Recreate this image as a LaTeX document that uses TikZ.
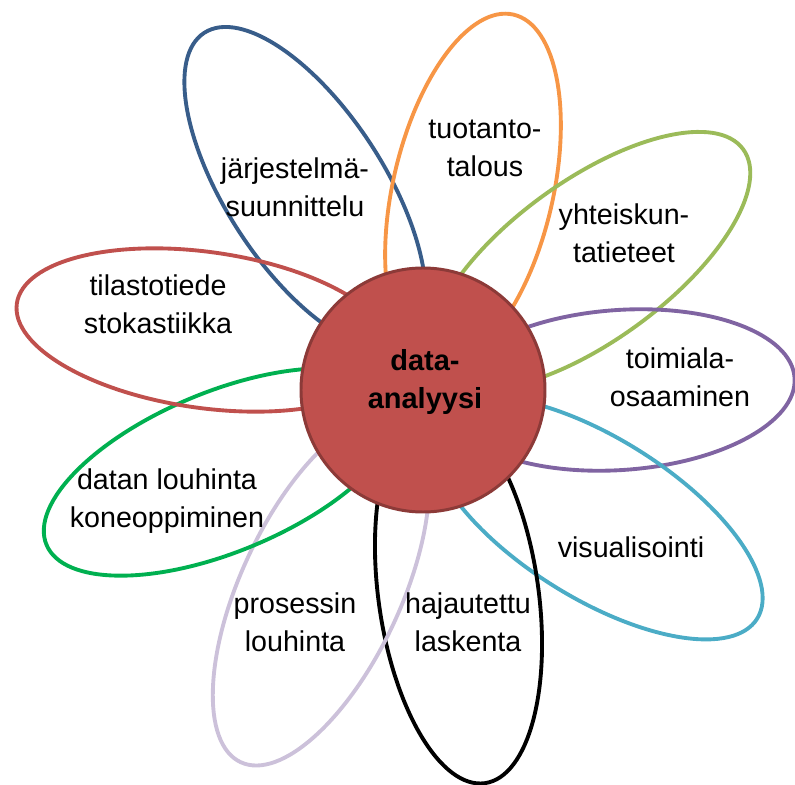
\documentclass[tikz,border=0pt]{standalone}
\usepackage{fontspec}
\setmainfont{Liberation Sans}
\usetikzlibrary{shapes.geometric}
\definecolor{petblue}{HTML}{385D8A}
\definecolor{petorange}{HTML}{F79646}
\definecolor{petolive}{HTML}{9BBB59}
\definecolor{petpurple}{HTML}{8064A2}
\definecolor{petteal}{HTML}{4BACC6}
\definecolor{petlilac}{HTML}{CCC1DA}
\definecolor{petgreen}{HTML}{00B050}
\definecolor{petred}{HTML}{C0504D}
\definecolor{coreedge}{HTML}{8C3A38}

\begin{document}
\begin{tikzpicture}[
    petal/.style={ellipse, draw, line width=2.2pt, minimum width=7.6cm,
                  minimum height=3.2cm, inner sep=0pt},
    lbl/.style={align=center, font=\fontsize{16.3}{21.6}\selectfont},
  ]
  \useasboundingbox (-8.46,-7.9) rectangle (7.44,7.8);

  % Teralehdet
  \node[petal, petblue, rotate=123, minimum width=7.4cm,
        minimum height=3.16cm] (jarj) at (-2.36,4.04) {};
  \node[petal, petorange, rotate=77, minimum width=7.2cm] (tuot) at (1.0,4.0) {};
  \node[petal, petolive, rotate=36] (yht) at (3.33,2.58) {};
  \node[petal, petpurple, rotate=4, minimum width=7.0cm] (toim) at (3.94,0) {};
  \node[petal, petteal, rotate=-32] (visu) at (3.46,-2.56) {};
  \node[petal, black, rotate=-82] (haja) at (0.71,-4.1) {};
  \node[petal, petlilac, rotate=-115] (pros) at (-2.04,-4.0) {};
  \node[petal, petgreen, rotate=22.5] (dlou) at (-4.02,-1.64) {};
  \node[petal, petred, rotate=-8, minimum height=3.12cm] (tila) at (-4.36,1.2) {};

  % Keskusta
  \node[circle, fill=petred, draw=coreedge, line width=1.7pt,
        minimum size=4.88cm, inner sep=0pt] (core) at (0,0) {};
  \node[lbl, font=\fontsize{16.5}{22}\selectfont\bfseries] (coretxt)
    at (0.04,0.16) {data-\\analyysi};

  % Tekstit
  \node[lbl] (jarjtxt) at (-2.56,4.06) {järjestelmä-\\suunnittelu};
  \node[lbl] (tuottxt) at (1.24,4.84) {tuotanto-\\talous};
  \node[lbl] (yhttxt) at (4.02,3.14) {yhteiskun-\\tatieteet};
  \node[lbl] (toimtxt) at (5.14,0.26) {toimiala-\\osaaminen};
  \node[lbl] (visutxt) at (4.16,-3.14) {visualisointi};
  \node[lbl] (hajatxt) at (0.9,-4.64) {hajautettu\\laskenta};
  \node[lbl] (prostxt) at (-2.56,-4.64) {prosessin\\louhinta};
  \node[lbl] (dloutxt) at (-5.12,-2.22) {datan louhinta\\koneoppiminen};
  \node[lbl] (tilatxt) at (-5.3,1.72) {tilastotiede\\stokastiikka};
\end{tikzpicture}
\end{document}
